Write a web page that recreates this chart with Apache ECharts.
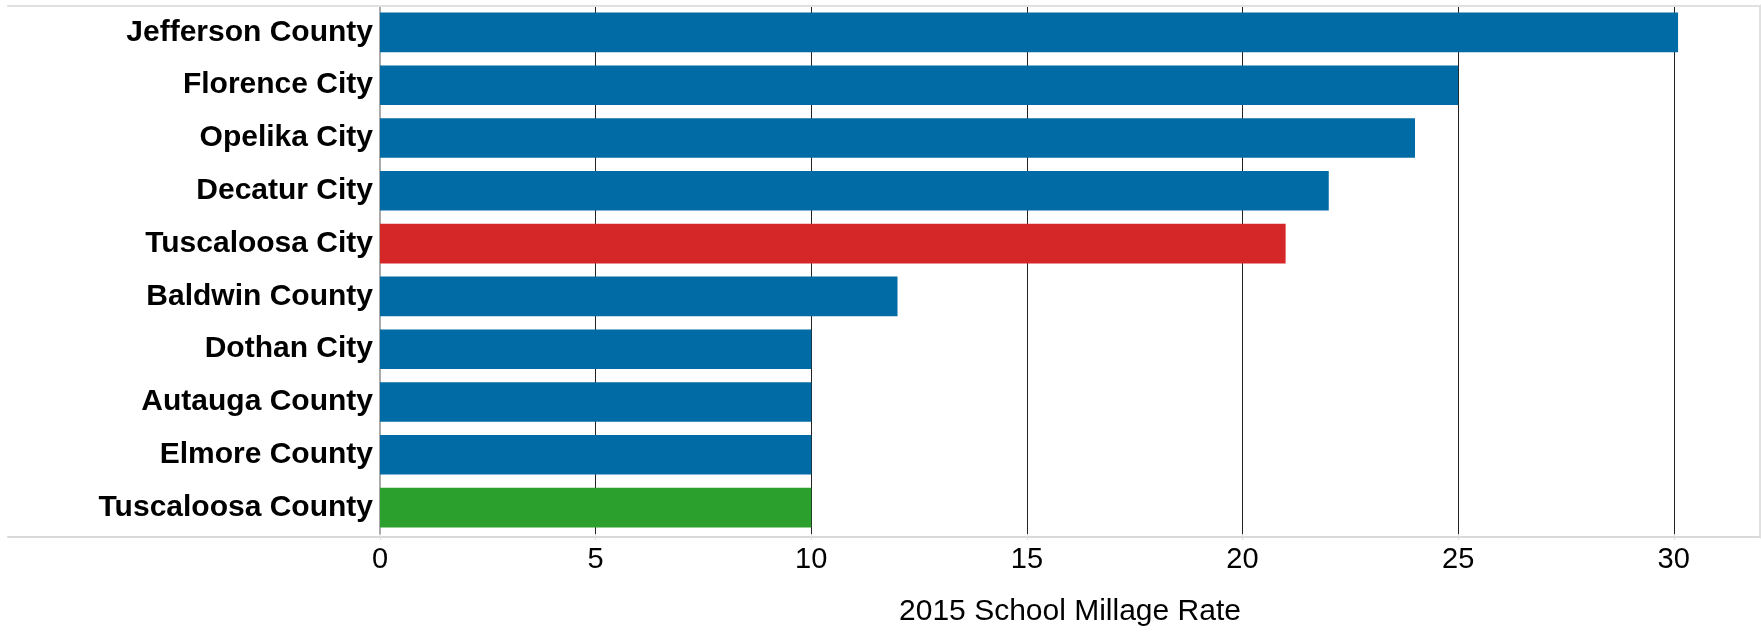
<!DOCTYPE html>
<html>
<head>
<meta charset="utf-8">
<script src="https://cdn.jsdelivr.net/npm/echarts@6/dist/echarts.min.js"></script>
<style>
html,body{margin:0;padding:0;background:#fff;}
#chart{width:1761px;height:632px;}
</style>
</head>
<body>
<div id="chart"></div>
<script>
const categories = ["Jefferson County","Florence City","Opelika City","Decatur City","Tuscaloosa City","Baldwin County","Dothan City","Autauga County","Elmore County","Tuscaloosa County"];
const millage = [30.1, 25, 24, 22, 21, 12, 10, 10, 10, 10];
const barColors = ["#006BA4","#006BA4","#006BA4","#006BA4","#D62728","#006BA4","#006BA4","#006BA4","#006BA4","#2CA02C"];
const xTicks = {min: 0, max: 32, interval: 5};
const axisTitle = "2015 School Millage Rate";

const chart = echarts.init(document.getElementById('chart'), null, {renderer: 'canvas'});
const font = "'Liberation Sans', Arial, sans-serif";
const option = {
  animation: false,
  backgroundColor: '#fff',
  grid: [
    {left: 380, right: 1, top: 6, bottom: 95, containLabel: false},
    {left: 8, right: 1, top: 6, bottom: 95, containLabel: false}
  ],
  xAxis: [
    {
      type: 'value', gridIndex: 0,
      min: xTicks.min, max: xTicks.max, interval: xTicks.interval,
      name: axisTitle, nameLocation: 'middle', nameGap: 63,
      nameTextStyle: {fontFamily: font, fontSize: 30, color: '#000'},
      axisLine: {show: false},
      axisTick: {show: true, length: 6, lineStyle: {color: '#ddd'}},
      axisLabel: {fontFamily: font, fontSize: 29, color: '#000', margin: 11,
        showMaxLabel: false,
        formatter: v => (v % xTicks.interval === 0 ? String(v) : '')},
      splitLine: {show: true, lineStyle: {color: '#222', width: 1}}
    },
    {
      type: 'value', gridIndex: 1, position: 'bottom',
      axisLine: {show: true, onZero: false, lineStyle: {color: '#d9d9d9', width: 2}},
      axisTick: {show: false}, axisLabel: {show: false}, splitLine: {show: false}
    },
    {
      type: 'value', gridIndex: 1, position: 'top',
      axisLine: {show: true, onZero: false, lineStyle: {color: '#e0e0e0', width: 2}},
      axisTick: {show: false}, axisLabel: {show: false}, splitLine: {show: false}
    }
  ],
  yAxis: [
    {
      type: 'category', gridIndex: 0, data: categories, inverse: true,
      axisLine: {show: true, lineStyle: {color: '#aaa', width: 2}},
      axisTick: {show: false},
      axisLabel: {fontFamily: font, fontSize: 30, fontWeight: 'bold', color: '#000', margin: 7}
    },
    {
      type: 'value', gridIndex: 1, position: 'right', z: 10,
      axisLine: {show: true, onZero: false, lineStyle: {color: '#e0e0e0', width: 3}},
      axisTick: {show: false}, axisLabel: {show: false}, splitLine: {show: false}
    }
  ],
  series: [
    {
      type: 'bar', xAxisIndex: 0, yAxisIndex: 0,
      data: millage.map((v, i) => ({value: v, itemStyle: {color: barColors[i]}})),
      barCategoryGap: '25%',
      z: 3
    }
  ]
};
chart.setOption(option);
</script>
</body>
</html>
